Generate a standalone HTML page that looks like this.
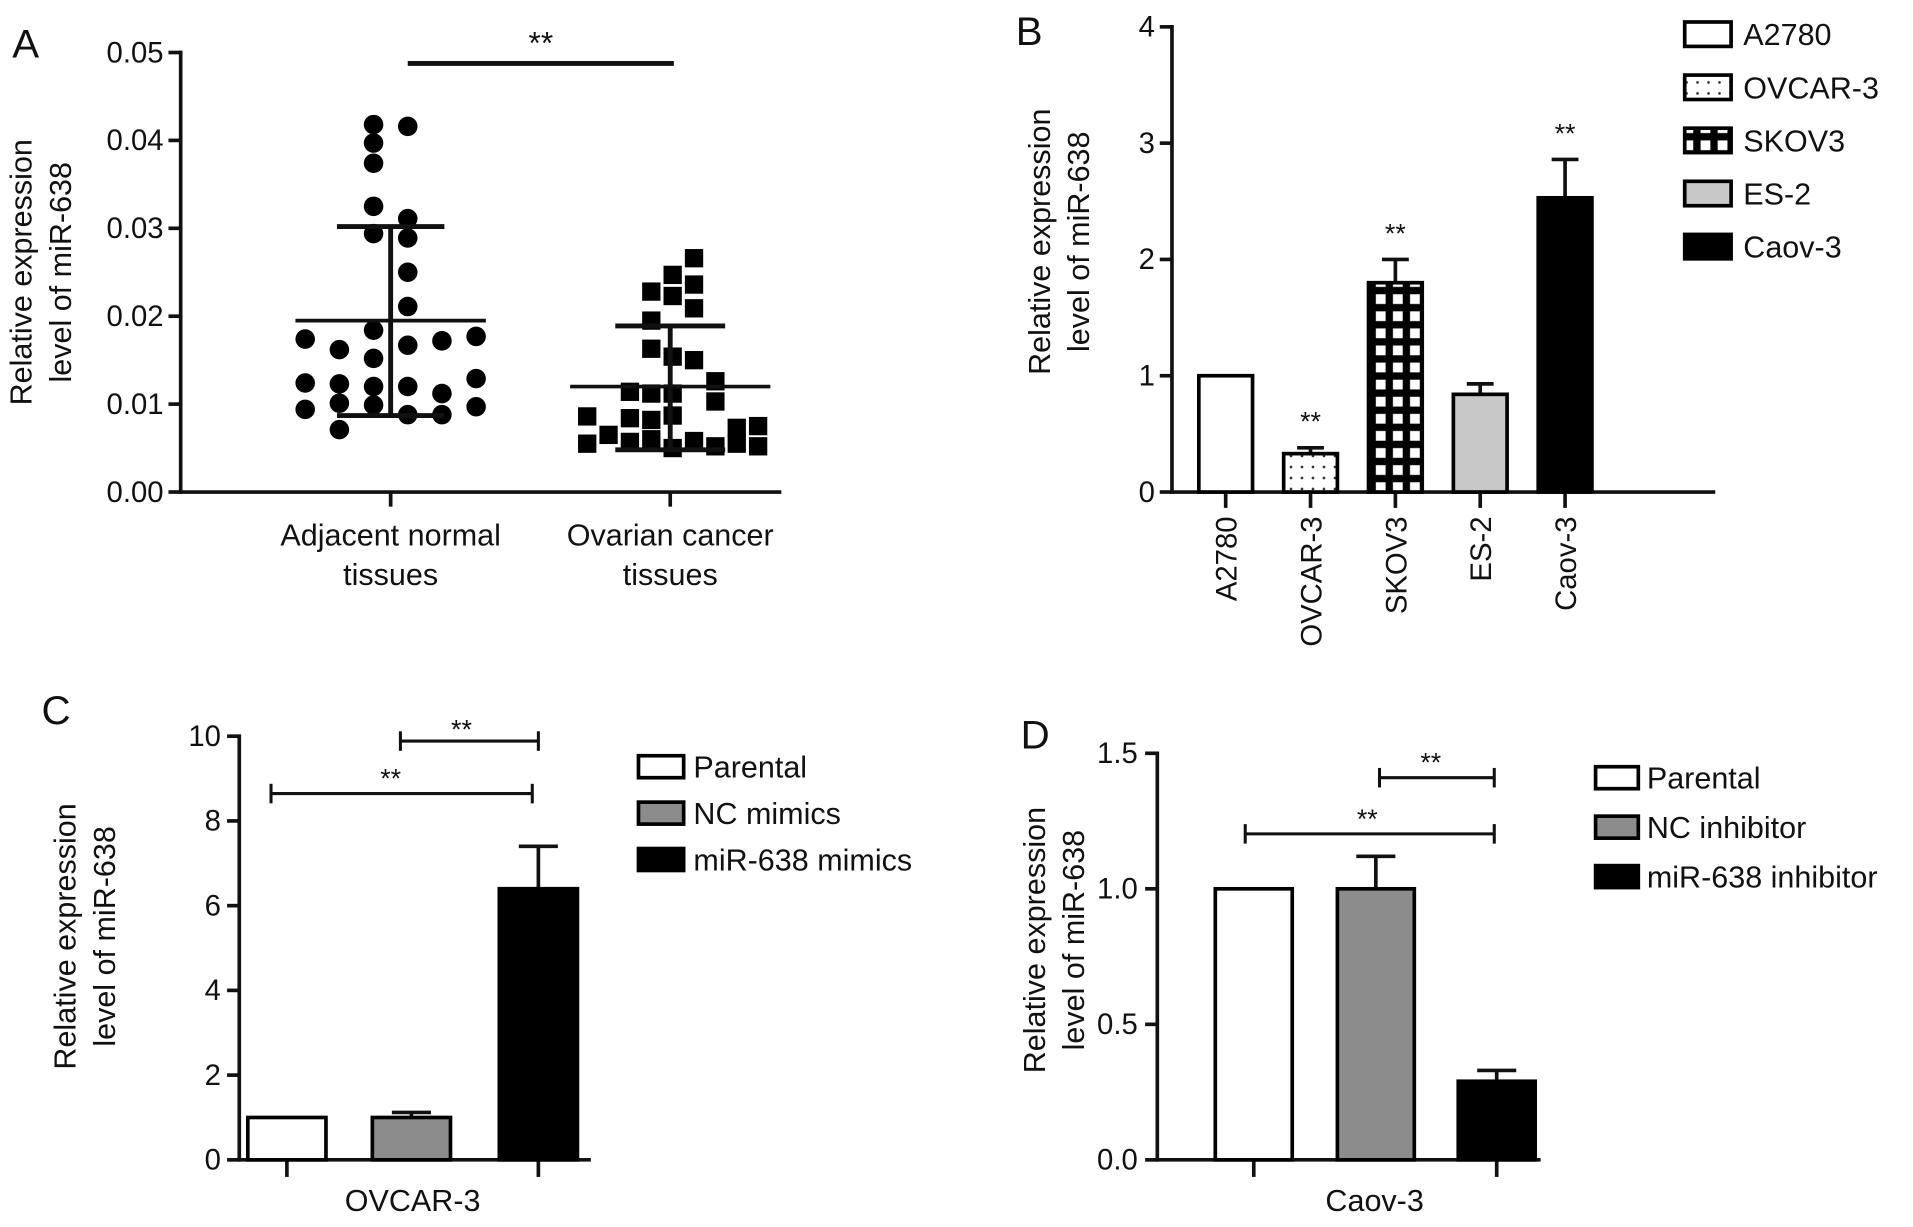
<!DOCTYPE html>
<html><head><meta charset="utf-8"><style>
html,body{margin:0;padding:0;background:#fff}
svg{display:block}
text{font-family:"Liberation Sans",Arial,sans-serif;fill:#111}
</style></head><body>
<svg id="fig" width="1913" height="1227" viewBox="0 0 1567 1005" preserveAspectRatio="none" xmlns="http://www.w3.org/2000/svg">
<defs>
<pattern id="dots" width="9" height="9" patternUnits="userSpaceOnUse"><rect width="9" height="9" fill="#fff"/><circle cx="4.5" cy="4.5" r="1.1" fill="#333"/></pattern>
<pattern id="grid" width="14" height="14" patternUnits="userSpaceOnUse" x="1124" y="0"><rect width="14" height="14" fill="#000"/><rect x="3" y="3" width="8" height="8" fill="#fff"/></pattern>
</defs>
</svg>
<script>
// Panel A data
const aNormal=[0.0418,0.0397,0.0374,0.0325,0.0294,0.0416,0.0311,0.0289,0.0250,0.0211,0.0167,0.0120,0.0088,0.0184,0.0152,0.0120,0.0099,0.0174,0.0124,0.0094,0.0162,0.0123,0.0101,0.0071,0.0172,0.0112,0.0088,0.0177,0.0129,0.0097];
const aNormalCol=[2,2,2,2,2,3,3,3,3,3,3,3,3,2,2,2,2,0,0,0,1,1,1,1,4,4,4,5,5,5];
const aNormalStats=[0.0195,0.0302,0.0087];
const aCancer=[0.0266,0.0247,0.0228,0.0236,0.0223,0.0209,0.0195,0.0163,0.0154,0.0150,0.0126,0.0103,0.0114,0.0112,0.0112,0.0086,0.0084,0.0082,0.0087,0.0065,0.0055,0.0057,0.0060,0.0050,0.0058,0.0052,0.0073,0.0055,0.0075,0.0052];
const aCancerCol=[5,4,3,5,4,5,3,3,4,5,6,6,2,3,4,0,2,3,4,1,0,2,3,4,5,6,7,7,8,8];
const aCancerStats=[0.0120,0.0189,0.0048];
const aTicks=["0.00","0.01","0.02","0.03","0.04","0.05"];
// Panel B data
const bCats=["A2780","OVCAR-3","SKOV3","ES-2","Caov-3"];
const bVals=[1.0,0.33,1.80,0.84,2.53];
const bErr=[0,0.05,0.20,0.09,0.33];
const bSig=["","**","**","","**"];
const bTicks=["0","1","2","3","4"];
// Panel C data
const cCats=["Parental","NC mimics","miR-638 mimics"];
const cVals=[1.0,1.0,6.4];
const cErr=[0,0.12,1.0];
const cTicks=["0","2","4","6","8","10"];
// Panel D data
const dCats=["Parental","NC inhibitor","miR-638 inhibitor"];
const dVals=[1.0,1.0,0.29];
const dErr=[0,0.12,0.04];
const dTicks=["0.0","0.5","1.0","1.5"];

const svg=document.getElementById('fig');
const NS='http://www.w3.org/2000/svg';
function mk(tag,attrs,parent){const e=document.createElementNS(NS,tag);for(const k in attrs)e.setAttribute(k,attrs[k]);(parent||svg).appendChild(e);return e;}
function line(x1,y1,x2,y2,w,p){return mk('line',{x1,y1,x2,y2,stroke:'#111','stroke-width':w||3},p);}
function txt(s,x,y,size,anchor,p,rot){const t=mk('text',{x,y,'font-size':size,'text-anchor':anchor||'middle'},p);if(rot)t.setAttribute('transform','rotate(-90 '+x+' '+y+')');t.textContent=s;return t;}
function grp(name){const g=mk('g',{});return g;}

function yAxis(name,x,y0,y1,ticks,fmtX){const g=grp(name);line(x,y0+1.5,x,y1-1.5,3,g);ticks.forEach((t,i)=>{const y=y0+(y1-y0)*i/(ticks.length-1);line(x-10,y,x,y,3,g);const l=txt(t,fmtX,y+8,24,'end',g);});return g;}
function ytitle(name,x,y){const g=grp(name);txt('Relative expression',x,y,25,'middle',g,true);txt('level of miR-638',x+32,y,25,'middle',g,true);return g;}
function letter(s,x,y){const t=txt(s,x,y,33,'start');}

// ---------- Panel A ----------
letter('A',10,47);
const ayA=v=>403-v/0.05*360;
yAxis('a-y-axis',148,403,43,aTicks,134);
ytitle('a-y-axis-title',26,223);
{const g=grp('a-x-axis');line(146.5,403,640,403,3,g);line(320,403,320,415,3,g);line(549,403,549,415,3,g);
txt('Adjacent normal',320,447,25,'middle',g);txt('tissues',320,479,25,'middle',g);
txt('Ovarian cancer',549,447,25,'middle',g);txt('tissues',549,479,25,'middle',g);}
{const g=grp('a-significance');line(334,52,552,52,4,g);txt('**',443,44,26,'middle',g).setAttribute('font-family','Liberation Serif');}
const gN=grp('a-normal-points');
aNormal.forEach((v,i)=>{const c=mk('circle',{cx:250+aNormalCol[i]*28,cy:ayA(v),r:8,fill:'#000'},gN);

});
const gC=grp('a-cancer-points');
aCancer.forEach((v,i)=>{const r=mk('rect',{x:481+aCancerCol[i]*17.5-7.5,y:ayA(v)-7.5,width:15,height:15,fill:'#000'},gC);

});
function meanSd(name,cx,half,capHalf,st){const g=grp(name);line(cx-half,ayA(st[0]),cx+half,ayA(st[0]),3,g);line(cx,ayA(st[1]),cx,ayA(st[2]),4,g);line(cx-capHalf,ayA(st[1]),cx+capHalf,ayA(st[1]),4,g);line(cx-capHalf,ayA(st[2]),cx+capHalf,ayA(st[2]),4,g);}
meanSd('a-normal-mean-sd',320,78,44,aNormalStats);
meanSd('a-cancer-mean-sd',549,82,45,aCancerStats);

// ---------- Panel B ----------
letter('B',832,37);
const ayB=v=>403-v/4*381;
yAxis('b-y-axis',960,403,22,bTicks,946);
ytitle('b-y-axis-title',860,198);
const bFill=['#fff','url(#dots)','url(#grid)','#c8c8c8','#000'];
const bx0=1004,bdx=69.5;
{const g=grp('b-x-axis');line(958.5,403,1405,403,3,g);bCats.forEach((c,i)=>{const x=bx0+i*bdx;line(x,403,x,416,3,g);const t=txt(c,x+9,423,24,'end',g,true);});}
const gB=grp('b-bars');
bCats.forEach((c,i)=>{const x=bx0+i*bdx,w=44,top=ayB(bVals[i]);
if(bErr[i]>0){const e=ayB(bVals[i]+bErr[i]);line(x,top,x,e,3,gB);line(x-11,e,x+11,e,3,gB);}
const r=mk('rect',{x:x-w/2,y:top,width:w,height:403-top,fill:bFill[i],stroke:'#000','stroke-width':3},gB);


if(bSig[i]){txt(bSig[i],x,ayB(bVals[i]+bErr[i])-14,22,'middle',gB);}});
{const g=grp('b-legend');bCats.forEach((c,i)=>{const y=28+i*43.5;const r=mk('rect',{x:1380,y:y-10,width:38,height:20,fill:bFill[i],stroke:'#000','stroke-width':3},g);


txt(c,1428,y+9,25,'start',g);});}

// ---------- Panel C ----------
letter('C',34,593);
const ayC=v=>950-v/10*347;
yAxis('c-y-axis',196,950,603,cTicks,181);
ytitle('c-y-axis-title',62,767);
const cFill=['#fff','#8c8c8c','#000'];
const cxs=[235,337,441];
{const g=grp('c-x-axis');line(194.5,950,484,950,3,g);line(235,950,235,964,3,g);line(441,950,441,964,3,g);txt('OVCAR-3',338,992,25,'middle',g);}
const gCb=grp('c-bars');
cCats.forEach((c,i)=>{const x=cxs[i],w=64,top=ayC(cVals[i]);
if(cErr[i]>0){const e=ayC(cVals[i]+cErr[i]);line(x,top,x,e,3,gCb);line(x-16,e,x+16,e,3,gCb);}
const r=mk('rect',{x:x-w/2,y:top,width:w,height:950-top,fill:cFill[i],stroke:'#000','stroke-width':3},gCb);

});
{const g=grp('c-significance');line(222,650,436,650,2.5,g);line(222,642,222,658,2.5,g);line(436,642,436,658,2.5,g);txt('**',320,645,22,'middle',g);
line(328,607,441,607,2.5,g);line(328,599,328,615,2.5,g);line(441,599,441,615,2.5,g);txt('**',378,605,22,'middle',g);}
{const g=grp('c-legend');cCats.forEach((c,i)=>{const y=628+i*38;const r=mk('rect',{x:523,y:y-9,width:37,height:18,fill:cFill[i],stroke:'#000','stroke-width':3},g);


txt(c,568,y+9,25,'start',g);});}

// ---------- Panel D ----------
letter('D',836,613);
const ayD=v=>950-v/1.5*333;
yAxis('d-y-axis',948,950,617,dTicks,932);
ytitle('d-y-axis-title',856,770);
const dxs=[1027,1127,1226];
{const g=grp('d-x-axis');line(946.5,950,1262,950,3,g);line(1027,950,1027,964,3,g);line(1226,950,1226,964,3,g);txt('Caov-3',1126,992,25,'middle',g);}
const gDb=grp('d-bars');
dCats.forEach((c,i)=>{const x=dxs[i],w=63,top=ayD(dVals[i]);
if(dErr[i]>0){const e=ayD(dVals[i]+dErr[i]);line(x,top,x,e,3,gDb);line(x-16,e,x+16,e,3,gDb);}
const r=mk('rect',{x:x-w/2,y:top,width:w,height:950-top,fill:cFill[i],stroke:'#000','stroke-width':3},gDb);

});
{const g=grp('d-significance');line(1020,683,1224,683,2.5,g);line(1020,675,1020,691,2.5,g);line(1224,675,1224,691,2.5,g);txt('**',1120,678,22,'middle',g);
line(1130,637,1224,637,2.5,g);line(1130,629,1130,645,2.5,g);line(1224,629,1224,645,2.5,g);txt('**',1172,632,22,'middle',g);}
{const g=grp('d-legend');dCats.forEach((c,i)=>{const y=637+i*40.5;const r=mk('rect',{x:1307,y:y-9,width:35,height:18,fill:cFill[i],stroke:'#000','stroke-width':3},g);


txt(c,1349,y+9,25,'start',g);});}
</script>
</body></html>
